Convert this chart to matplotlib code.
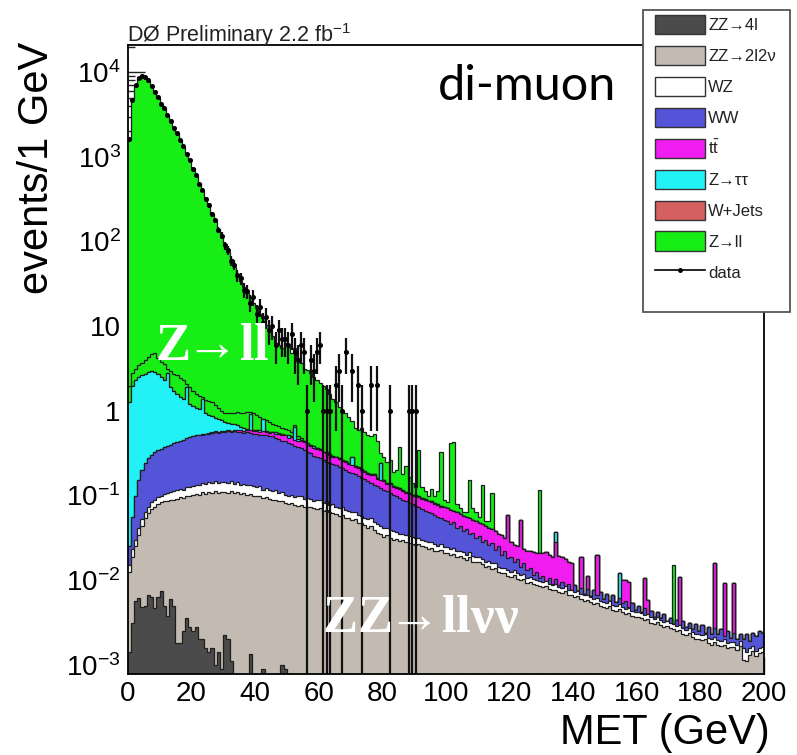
import numpy as np
import matplotlib
matplotlib.use('Agg')
import matplotlib.pyplot as plt
from matplotlib.patches import Patch, Rectangle
from matplotlib.lines import Line2D
from matplotlib.ticker import MultipleLocator, LogLocator, NullFormatter

plt.rcParams['font.family'] = ['Liberation Sans', 'DejaVu Sans']
plt.rcParams['mathtext.fontset'] = 'custom'
plt.rcParams['mathtext.rm'] = 'Liberation Sans'
plt.rcParams['mathtext.it'] = 'Liberation Sans:italic'
plt.rcParams['mathtext.default'] = 'regular'

n = None

# MET bins: 1 GeV from 0 to 200
met_edges = list(range(0, 201))

# stack tops, log10(events/1 GeV) (None = nothing visible added)
zz4l_lg = [
    -2.85, -2.50, -2.25, -2.21, -2.32, -2.30, -2.17, -2.20, -2.33, -2.20,
    -2.13, -2.30, -2.42, -2.22, -2.30, -2.74, -2.74, -2.60, -2.45, -2.55,
    -2.60, -2.55, -2.70, -2.70, -2.80, -2.85, -2.80, -3.00, -2.85, -3.05,
    -2.65, -2.70, -2.95, n, n, n, n, n, -2.87, n,
    n, n, -3.05, n, n, n, n, n, -3.00, -3.05]

zz2l2v_lg = [
    -1.90, -1.72, -1.60, -1.47, -1.36, -1.27, -1.21, -1.16, -1.13, -1.10,
    -1.08, -1.07, -1.06, -1.05, -1.05, -1.04, -1.02, -1.03, -1.00, -1.01,
    -0.99, -0.98, -0.99, -0.96, -0.98, -0.96, -0.97, -0.95, -0.97, -0.96,
    -0.96, -0.97, -0.95, -0.97, -0.96, -0.98, -0.97, -0.99, -0.98, -1.00,
    -1.01, -1.00, -1.03, -1.02, -1.04, -1.05, -1.05, -1.07, -1.06, -1.09,
    -1.10, -1.09, -1.11, -1.12, -1.11, -1.13, -1.14, -1.13, -1.15, -1.16,
    -1.15, -1.18, -1.17, -1.20, -1.21, -1.22, -1.24, -1.23, -1.26, -1.27,
    -1.29, -1.28, -1.32, -1.33, -1.35, -1.38, -1.36, -1.41, -1.44, -1.46,
    -1.49, -1.47, -1.50, -1.52, -1.51, -1.54, -1.53, -1.55, -1.56, -1.57,
    -1.58, -1.57, -1.60, -1.61, -1.63, -1.62, -1.65, -1.66, -1.64, -1.68,
    -1.68, -1.70, -1.69, -1.72, -1.71, -1.74, -1.76, -1.73, -1.78, -1.79,
    -1.79, -1.81, -1.84, -1.83, -1.87, -1.86, -1.90, -1.92, -1.91, -1.95,
    -1.96, -1.94, -1.98, -2.00, -1.99, -2.03, -2.02, -2.05, -2.06, -2.07,
    -2.08, -2.07, -2.10, -2.12, -2.11, -2.14, -2.15, -2.13, -2.17, -2.18,
    -2.20, -2.19, -2.22, -2.24, -2.23, -2.26, -2.28, -2.27, -2.30, -2.32,
    -2.33, -2.31, -2.35, -2.36, -2.34, -2.38, -2.40, -2.39, -2.42, -2.43,
    -2.43, -2.45, -2.47, -2.46, -2.50, -2.52, -2.49, -2.53, -2.55, -2.54,
    -2.56, -2.58, -2.60, -2.59, -2.63, -2.65, -2.62, -2.67, -2.69, -2.70,
    -2.71, -2.70, -2.74, -2.76, -2.73, -2.77, -2.78, -2.76, -2.80, -2.79,
    -2.79, -2.82, -2.78, -2.94, -2.96, -2.88, -2.84, -2.90, -2.86, -2.85]

wz_lg = [
    -1.82, -1.63, -1.52, -1.38, -1.28, -1.19, -1.13, -1.08, -1.05, -1.02,
    -1.00, -0.98, -0.97, -0.96, -0.95, -0.94, -0.92, -0.93, -0.90, -0.90,
    -0.89, -0.87, -0.88, -0.85, -0.86, -0.84, -0.85, -0.83, -0.85, -0.84,
    -0.84, -0.85, -0.83, -0.86, -0.84, -0.87, -0.86, -0.88, -0.87, -0.89,
    -0.90, -0.89, -0.93, -0.91, -0.94, -0.95, -0.94, -0.97, -0.96, -0.99,
    -1.00, -0.99, -1.02, -1.01, -1.01, -1.04, -1.03, -1.04, -1.06, -1.05,
    -1.05, -1.09, -1.07, -1.11, -1.10, -1.13, -1.15, -1.13, -1.17, -1.18,
    -1.19, -1.19, -1.23, -1.24, -1.26, -1.28, -1.27, -1.31, -1.34, -1.36,
    -1.38, -1.38, -1.41, -1.42, -1.43, -1.45, -1.45, -1.47, -1.48, -1.49,
    -1.50, -1.50, -1.52, -1.54, -1.55, -1.55, -1.57, -1.59, -1.57, -1.61,
    -1.61, -1.63, -1.62, -1.66, -1.65, -1.67, -1.70, -1.67, -1.71, -1.73,
    -1.73, -1.75, -1.78, -1.77, -1.80, -1.80, -1.84, -1.85, -1.85, -1.88,
    -1.90, -1.88, -1.92, -1.94, -1.93, -1.97, -1.96, -1.99, -2.00, -2.01,
    -2.02, -2.01, -2.04, -2.06, -2.05, -2.08, -2.09, -2.07, -2.11, -2.12,
    -2.14, -2.13, -2.16, -2.18, -2.17, -2.20, -2.22, -2.21, -2.24, -2.26,
    -2.27, -2.25, -2.29, -2.30, -2.28, -2.32, -2.34, -2.33, -2.36, -2.37,
    -2.37, -2.39, -2.41, -2.40, -2.44, -2.46, -2.43, -2.47, -2.49, -2.48,
    -2.50, -2.52, -2.54, -2.53, -2.57, -2.59, -2.56, -2.61, -2.63, -2.64,
    -2.65, -2.64, -2.68, -2.70, -2.67, -2.71, -2.72, -2.70, -2.74, -2.73,
    -2.73, -2.76, -2.72, -2.80, -2.85, -2.80, -2.78, -2.84, -2.80, -2.79]

ww_lg = [
    -1.60, -1.25, -1.00, -0.82, -0.70, -0.62, -0.56, -0.52, -0.49, -0.46,
    -0.45, -0.43, -0.41, -0.40, -0.38, -0.37, -0.35, -0.34, -0.32, -0.31,
    -0.30, -0.29, -0.28, -0.28, -0.27, -0.27, -0.26, -0.25, -0.26, -0.25,
    -0.25, -0.24, -0.25, -0.24, -0.25, -0.25, -0.26, -0.25, -0.26, -0.27,
    -0.27, -0.28, -0.28, -0.29, -0.30, -0.30, -0.32, -0.33, -0.35, -0.36,
    -0.38, -0.39, -0.41, -0.43, -0.44, -0.46, -0.48, -0.50, -0.53, -0.55,
    -0.56, -0.58, -0.60, -0.61, -0.63, -0.64, -0.66, -0.68, -0.70, -0.72,
    -0.73, -0.75, -0.77, -0.79, -0.81, -0.83, -0.85, -0.87, -0.89, -0.91,
    -0.93, -0.95, -0.97, -0.99, -1.01, -1.03, -1.05, -1.07, -1.09, -1.10,
    -1.12, -1.14, -1.16, -1.18, -1.19, -1.21, -1.23, -1.25, -1.27, -1.29,
    -1.30, -1.34, -1.31, -1.38, -1.36, -1.42, -1.39, -1.46, -1.44, -1.50,
    -1.48, -1.55, -1.53, -1.58, -1.56, -1.64, -1.60, -1.70, -1.66, -1.74,
    -1.72, -1.78, -1.75, -1.84, -1.80, -1.88, -1.86, -1.94, -1.90, -1.97,
    -1.95, -2.02, -1.97, -2.05, -1.98, -2.06, -2.02, -2.10, -2.04, -2.12,
    -2.06, -2.13, -2.09, -2.16, -2.10, -2.19, -2.12, -2.18, -2.14, -2.22,
    -2.16, -2.24, -2.18, -2.26, -2.21, -2.27, -2.24, -2.32, -2.27, -2.35,
    -2.30, -2.37, -2.33, -2.41, -2.36, -2.44, -2.38, -2.45, -2.40, -2.49,
    -2.45, -2.52, -2.47, -2.54, -2.48, -2.55, -2.50, -2.58, -2.52, -2.60,
    -2.53, -2.62, -2.55, -2.63, -2.57, -2.64, -2.58, -2.66, -2.60, -2.68,
    -2.62, -2.70, -2.63, -2.70, -2.64, -2.72, -2.62, -2.66, -2.60, -2.62]

tt_lg = [
    n, n, n, n, n, n, n, n, n, n,
    n, n, n, n, n, n, n, n, n, n,
    n, n, n, -0.27, -0.27, -0.26, -0.25, -0.24, -0.25, -0.24,
    -0.24, -0.23, -0.24, -0.23, -0.23, -0.23, -0.24, -0.23, -0.23, -0.24,
    -0.24, -0.25, -0.24, -0.25, -0.26, -0.25, -0.27, -0.27, -0.29, -0.29,
    -0.32, -0.31, -0.34, -0.35, -0.36, -0.37, -0.40, -0.41, -0.44, -0.45,
    -0.46, -0.49, -0.50, -0.52, -0.54, -0.55, -0.57, -0.59, -0.60, -0.63,
    -0.64, -0.66, -0.67, -0.70, -0.72, -0.74, -0.76, -0.76, -0.80, -0.82,
    -0.83, -0.86, -0.86, -0.90, -0.91, -0.92, -0.95, -0.97, -0.98, -1.00,
    -1.00, -1.02, -1.04, -1.05, -1.07, -1.08, -1.10, -1.11, -1.13, -1.14,
    -1.15, -1.17, -1.18, -1.20, -1.22, -1.24, -1.25, -1.27, -1.29, -1.30,
    -1.32, -1.34, -1.36, -1.38, -1.40, -1.42, -1.45, -1.47, -1.50, -1.23,
    -1.55, -1.58, -1.60, -1.29, -1.63, -1.65, -1.66, -1.67, -1.68, -1.68,
    -1.68, -1.67, -1.70, -1.72, -1.55, -1.71, -1.73, -1.75, -1.78, -1.80,
    n, n, -1.73, n, -1.95, n, n, -1.70, n, n,
    n, n, n, n, n, -2.00, -2.00, -2.02, n, n,
    n, n, -1.97, -2.23, n, n, n, n, n, n,
    n, n, n, -1.96, n, n, n, n, n, n,
    n, n, n, n, -1.80, n, n, -2.03, n, n,
    -2.03, n, n, n, n, n, n, n, n, n]

ztautau_lg = [
    0.10, 0.30, 0.36, 0.40, 0.42, 0.44, 0.46, 0.47, 0.46, 0.43,
    0.40, 0.37, 0.45, 0.28, 0.24, 0.20, 0.17, 0.14, 0.28, 0.08,
    0.06, 0.04, 0.02, 0.14, -0.02, -0.05, -0.06, -0.08, -0.10, -0.11,
    -0.13, -0.14, -0.15, -0.16, -0.17, -0.19, -0.20, -0.21, -0.04, -0.22,
    -0.23, -0.23, -0.10, -0.24, -0.25, -0.25, -0.25, -0.26, -0.27, -0.28,
    -0.29, -0.30, -0.19, -0.33, -0.34, -0.36, -0.38, -0.40, -0.42, -0.44,
    -0.45, -0.48, -0.49, -0.51, -0.53, -0.54, -0.56, -0.58, -0.59, -0.62,
    -0.55, -0.65, -0.66, -0.69, -0.71, -0.73, -0.75, -0.75, -0.79, -0.62,
    -0.82, -0.85, -0.85, -0.89, -0.90, -0.91, -0.94, -0.96, -0.97, -0.99,
    -0.99, -1.01, -1.03, -1.04, -1.06, -1.07, -1.09, -1.10, -1.12, -1.13,
    n, n, n, n, n, n, n, n, n, n,
    n, n, n, n, n, n, n, n, n, n,
    n, n, n, n, n, n, n, n, n, n,
    n, n, n, n, -1.43, n, n, n, n, n,
    n, n, n, n, n, n, n, n, n, n,
    n, n, n, n, -1.91, n, n, n, n, n]

wjets_lg = []

zll_low_lg = [
    0.30, 0.45, 0.50, 0.54, 0.57, 0.60, 0.64, 0.67, 0.68, 0.63,
    0.58, 0.55, 0.50, 0.47, 0.44, 0.42, 0.39, 0.36, 0.32, 0.28,
    0.24, 0.20, 0.18, 0.16, 0.13, 0.12, 0.10, 0.07, 0.03, 0.00,
    -0.03, -0.03, -0.02, -0.03, -0.01, -0.02, -0.03, -0.01, -0.01, -0.02,
    -0.05, -0.07, -0.09, -0.11, -0.13, -0.15, -0.17, -0.18, -0.20, -0.21,
    -0.23, -0.25, -0.17, -0.30, -0.32]

zll_lg = [
    3.20, 3.67, 3.85, 3.93, 3.96, 3.95, 3.90, 3.84, 3.77, 3.70,
    3.63, 3.57, 3.50, 3.42, 3.35, 3.28, 3.20, 3.12, 3.04, 2.96,
    2.87, 2.78, 2.69, 2.60, 2.51, 2.42, 2.33, 2.24, 2.15, 2.06,
    1.97, 1.88, 1.79, 1.70, 1.62, 1.54, 1.46, 1.39, 1.33, 1.27,
    1.21, 1.15, 1.10, 1.02, 0.95, 0.88, 0.80, 0.78, 0.74, 0.80,
    0.76, 0.68, 0.74, 0.60, 0.56, 0.50, 0.48, 0.45, 0.40, 0.36,
    0.33, 0.30, 0.26, 0.20, 0.14, 0.10, 0.05, 0.00, -0.03, -0.07,
    -0.12, -0.20, -0.22, -0.20, -0.25, -0.28, -0.30, -0.27, -0.35, -0.50,
    -0.55, -0.60, -0.58, -0.72, -0.70, -0.43, -0.75, -0.65, -0.78, -0.85,
    -0.90, -0.46, -0.90, -0.95, -1.00, -0.92, -1.00, -0.95, -0.49, -1.05,
    -1.08, -0.38, -0.37, -1.10, -1.15, -1.20, -1.20, -0.82, -1.15, -1.20,
    -1.25, -0.88, -1.30, -1.30, -0.97, n, n, n, n, n,
    n, n, n, n, n, n, n, n, n, -0.93,
    n, n, n, n, n, n, n, n, n, n,
    n, n, n, n, n, n, n, n, n, n,
    n, n, n, n, n, n, n, n, n, n,
    n, n, n, n, n, n, n, n, n, n,
    n, -1.82]

# data, events per bin (nothing above 91 GeV)
data_counts = [
    1620, 4710, 7020, 8590, 9080, 8870, 8010, 6950, 5840, 5060,
    4230, 3760, 3120, 2660, 2210, 1930, 1570, 1340, 1080, 925,
    730, 615, 482, 405, 318, 268, 210, 178, 137, 118,
    90, 79, 59, 53, 40, 37, 27, 26, 19, 22,
    14, 17, 11, 13, 9, 10, 6, 9, 7, 7,
    6, 8, 5, 4, 6, 5, 1, 4, 3, 5,
    6, 1, 1, 1, 0, 2, 3, 1, 5, 0,
    3, 0, 2, 1, 0, 0, 2, 0, 2, 0,
    0, 0, 1, 0, 0, 0, 0, 0, 1, 1, 1]

labels = ['ZZ→4l', 'ZZ→2l2ν', 'WZ', 'WW', r'$t\bar{t}$', 'Z→ττ', 'W+Jets', 'Z→ll']
colors = ['#4b4b4b', '#c3bbb1', '#ffffff', '#5454d8', '#f01cf0', '#22f2f6', '#d46060', '#16ee16']


def to_values(lg):
    a = np.full(len(met_edges) - 1, np.nan)
    a[:len(lg)] = [np.nan if v is None else v for v in lg]
    return 10.0 ** a


series = [zz4l_lg, zz2l2v_lg, wz_lg, ww_lg, tt_lg, ztautau_lg, wjets_lg, zll_low_lg, zll_lg]
layer_colors = colors + [colors[-1]]
tops = np.vstack([to_values(s) for s in series])
tops[0] = np.nan_to_num(tops[0], nan=1e-9)
tops = np.fmax.accumulate(tops, axis=0)

fig = plt.figure(figsize=(7.97, 7.55), dpi=100)
ax = fig.add_axes([127.7 / 797, 1 - 674 / 755, (764 - 127.7) / 797, (674 - 45) / 755])
ax.set_yscale('log')

edges = np.array(met_edges)
for top, col in reversed(list(zip(tops, layer_colors))):
    ax.stairs(top, edges, baseline=1e-9, fill=True, color=col, zorder=2)
    ax.stairs(top, edges, baseline=None, color='#1e1e1e', lw=0.9, zorder=2)

data = np.zeros(len(edges) - 1)
data[:len(data_counts)] = data_counts
centers = edges[:-1] + 0.5
m = data > 0
err = np.sqrt(data[m])
lo = np.minimum(err, data[m] - 1e-6)
ax.errorbar(centers[m], data[m], yerr=[lo, err], xerr=0.5, fmt='o', ms=2.6,
            color='black', ecolor='#111111', elinewidth=1.6, capsize=0, zorder=4)

ax.set_xlim(0, 200)
ax.set_ylim(7.8e-4, 2.1e4)
ax.xaxis.set_major_locator(MultipleLocator(20))
ax.xaxis.set_minor_locator(MultipleLocator(5))
ax.set_yticks([1e-3, 1e-2, 1e-1, 1, 10, 1e2, 1e3, 1e4])
ax.set_yticklabels(['$10^{-3}$', '$10^{-2}$', '$10^{-1}$', '1', '10',
                    '$10^{2}$', '$10^{3}$', '$10^{4}$'])
ax.yaxis.set_minor_locator(LogLocator(base=10, subs=np.arange(2, 10)))
ax.yaxis.set_minor_formatter(NullFormatter())
ax.tick_params(which='both', direction='in', top=False, right=False,
               labelsize=20, width=1.0, color='#222222')
ax.tick_params(which='major', length=12, pad=5)
ax.tick_params(which='minor', length=5)
for s in ax.spines.values():
    s.set_linewidth(1.3)
    s.set_zorder(5)

serif = ['Liberation Serif', 'DejaVu Serif']
fig.text(127 / 797, 1 - 42 / 755, 'DØ Preliminary 2.2 fb$^{-1}$', fontsize=15.5,
         color='#222222', va='baseline')
fig.text(527 / 797, 1 - 100 / 755, 'di-muon', fontsize=35, family='Lato',
         ha='center', va='baseline')
fig.text(155 / 797, 1 - 360 / 755, r'Z$\!\!\rightarrow\!$ll', fontsize=38, color='white',
         family=serif, weight='bold', va='baseline', math_fontfamily='stix')
fig.text(322 / 797, 1 - 632 / 755, r'ZZ$\!\!\rightarrow\!$llνν', fontsize=38, color='white',
         family=serif, weight='bold', va='baseline', math_fontfamily='stix')
fig.text(37 / 797, 1 - 42 / 755, 'events/1 GeV', fontsize=30, rotation=90,
         ha='center', va='top')
fig.text(770 / 797, 1 - 733 / 755, 'MET (GeV)', fontsize=30, ha='right', va='center')

# legend box
fig.patches.append(Rectangle((643 / 797, 1 - 312 / 755), (790 - 643) / 797, (312 - 10) / 755,
                             transform=fig.transFigure, facecolor='white',
                             edgecolor='#555555', lw=1.3, zorder=3))
handles = [Patch(facecolor=c, edgecolor='#333333', lw=1.0) for c in colors]
handles.append(Line2D([], [], color='black', lw=1.2, marker='o', ms=2.5))
leg = fig.legend(handles, labels + ['data'], loc='upper left',
                 bbox_to_anchor=(655 / 797, 1 - 15 / 755), frameon=False,
                 borderpad=0, fontsize=12, handlelength=3.0, handleheight=1.4,
                 labelspacing=0.7, handletextpad=0.2, borderaxespad=0)
leg.set_zorder(6)
for t in leg.get_texts():
    t.set_color('#222222')

fig.savefig('out.png', dpi=100)
